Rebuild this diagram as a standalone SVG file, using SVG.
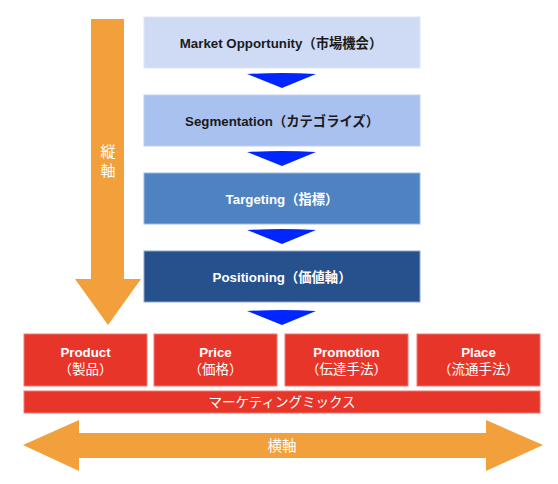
<svg xmlns="http://www.w3.org/2000/svg" width="558" height="484" viewBox="0 0 558 484">
<style>
.t{font-family:"Liberation Sans","Noto Sans CJK JP",Arial,sans-serif;text-anchor:middle;dominant-baseline:central}
.b{font-weight:bold;font-size:13.3px}
.j{font-size:13.5px}
.w{fill:#ffffff}
.k{fill:#1a1a1a}
.red{fill:#e8352a;stroke:#f07a70;stroke-width:1}
.org{fill:#f1a03b}
.tri{fill:#0026ff}
</style>
<rect width="558" height="484" fill="#ffffff"/>
<g id="axis-v">
<polygon class="org" points="91,19 124,19 124,279 141,279 108,325 75,279 91,279"/>
<text class="t w" x="108" y="151" font-size="15">縦</text>
<text class="t w" x="108" y="170" font-size="15">軸</text>
</g>
<g id="connectors">
<path class="tri" d="M247,74 Q282,72 316,74 L282,88 Z"/>
<path class="tri" d="M247,152 Q282,150 316,152 L282,166 Z"/>
<path class="tri" d="M247,230 Q282,228 316,230 L282,244 Z"/>
<path class="tri" d="M247,311 Q282,309 316,311 L282,325 Z"/>
</g>
<g id="market">
<rect x="144" y="17" width="276" height="51" fill="#cfdbf5" stroke="#dde6f8"/>
<text class="t b k" x="281" y="43">Market Opportunity（市場機会）</text>
</g>
<g id="segmentation">
<rect x="144" y="95" width="276" height="51" fill="#a9c1ef" stroke="#bfd0f2"/>
<text class="t b k" x="282" y="121">Segmentation（カテゴライズ）</text>
</g>
<g id="targeting">
<rect x="144" y="173" width="276" height="51" fill="#4f82c0" stroke="#9fb8de"/>
<text class="t b w" x="282" y="199">Targeting（指標）</text>
</g>
<g id="positioning">
<rect x="144" y="251" width="276" height="51" fill="#26518c" stroke="#8ea6cc"/>
<text class="t b w" x="282" y="277">Positioning（価値軸）</text>
</g>
<g id="product">
<rect class="red" x="24" y="334" width="123" height="52"/>
<text class="t b w" x="85.5" y="352">Product</text>
<text class="t j w" x="85.5" y="369">（製品）</text>
</g>
<g id="price">
<rect class="red" x="154" y="334" width="123" height="52"/>
<text class="t b w" x="215.5" y="352">Price</text>
<text class="t j w" x="215.5" y="369">（価格）</text>
</g>
<g id="promotion">
<rect class="red" x="285" y="334" width="123" height="52"/>
<text class="t b w" x="346.5" y="352">Promotion</text>
<text class="t j w" x="346.5" y="369">（伝達手法）</text>
</g>
<g id="place">
<rect class="red" x="417" y="334" width="123" height="52"/>
<text class="t b w" x="478.5" y="352">Place</text>
<text class="t j w" x="478.5" y="369">（流通手法）</text>
</g>
<g id="marketing-mix">
<rect class="red" x="24" y="391" width="516" height="22"/>
<text class="t w" x="282" y="402" font-size="13.5">マーケティングミックス</text>
</g>
<g id="axis-h">
<polygon class="org" points="23,445 79,420 79,433 486,433 486,420 543,445 486,471 486,458 79,458 79,471"/>
<text class="t w" x="282" y="445.5" font-size="14.5">横軸</text>
</g>
</svg>
